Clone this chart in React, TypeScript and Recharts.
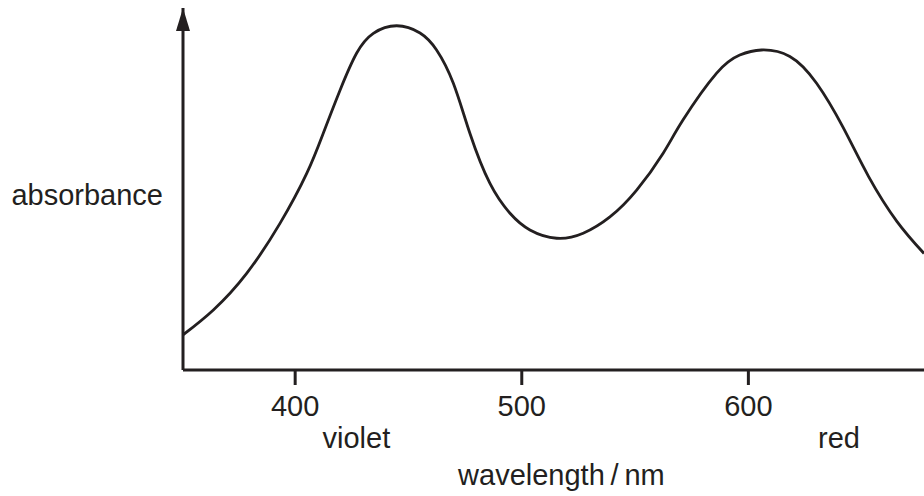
import React from 'react';
import { LineChart, Line, XAxis, YAxis } from 'recharts';

// absorbance spectrum (arbitrary units, 0-100)
const wavelengths = [
  350.5, 363.9, 378.6, 393.3, 405.1, 412.4, 419.8, 427.1, 434.5, 444.8, 455.1,
  462.4, 469.8, 477.1, 485.9, 494.8, 503.6, 515.4, 527.1, 538.9, 550.7, 562.4,
  571.2, 586.0, 596.2, 605.8, 618.3, 630.1, 641.8, 653.0, 665.6, 677.5,
];
const absorbance = [
  9.7, 16.6, 26.7, 40.5, 54.3, 65.4, 77.3, 87.5, 93.0, 95.1, 93.1,
  88.4, 79.2, 65.4, 51.6, 43.3, 38.7, 36.4, 37.8, 42.3, 49.7, 59.9,
  69.1, 82.0, 87.0, 88.4, 86.6, 79.2, 67.0, 53.5, 41.0, 32.2,
];
const xTicks = [400, 500, 600];
const colourNames = ['violet', 'red'];
const colourAt = [427, 640];

const X_DOMAIN: [number, number] = [350.5, 677.5];
const INK = '#231f20';
const FONT = '"Liberation Sans", Arial, Helvetica, sans-serif';
const FS = 29;

const data = wavelengths.map((nm, i) => ({ nm, a: absorbance[i] }));

const XLabels = (props: any) => {
  const vb = props.viewBox || {};
  const toX = (nm: number) =>
    vb.x + ((nm - X_DOMAIN[0]) / (X_DOMAIN[1] - X_DOMAIN[0])) * vb.width;
  return (
    <g fontFamily={FONT} fontSize={FS} fill={INK} textAnchor="middle">
      {colourNames.map((name, i) => (
        <text key={name} x={toX(colourAt[i])} y={vb.y + 78}>
          {name}
        </text>
      ))}
      <text x={toX(517.5)} y={vb.y + 115}>
        {'wavelength\u2009/\u2009nm'}
      </text>
    </g>
  );
};

const YLabel = (props: any) => {
  const vb = props.viewBox || {};
  return (
    <text
      x={vb.x + vb.width - 20}
      y={vb.y + vb.height / 2 + 16}
      textAnchor="end"
      fontFamily={FONT}
      fontSize={FS}
      fill={INK}
    >
      absorbance
    </text>
  );
};

export default function App() {
  return (
    <div style={{ position: 'absolute', left: 0, top: 0, background: '#fff' }}>
      <LineChart
        width={924}
        height={496}
        data={data}
        margin={{ top: 8, right: 0, bottom: 0, left: 0 }}
      >
        <defs>
          <marker
            id="arrowUp"
            markerUnits="userSpaceOnUse"
            markerWidth={14}
            markerHeight={23}
            viewBox="0 0 14 23"
            refX={7}
            refY={0}
            orient="0"
          >
            <path d="M0,23 L7,0 L14,23 Z" fill={INK} />
          </marker>
        </defs>
        <XAxis
          dataKey="nm"
          type="number"
          domain={X_DOMAIN}
          allowDataOverflow
          ticks={xTicks}
          height={126}
          tickSize={15}
          tickMargin={10}
          axisLine={{ stroke: INK, strokeWidth: 3 }}
          tickLine={{ stroke: INK, strokeWidth: 3 }}
          tick={{ fill: INK, fontSize: FS, fontFamily: FONT }}
          label={{ content: XLabels }}
        />
        <YAxis
          type="number"
          domain={[0, 100]}
          allowDataOverflow
          width={183}
          ticks={[]}
          tick={false}
          tickLine={false}
          axisLine={{ stroke: INK, strokeWidth: 3, markerStart: 'url(#arrowUp)' }}
          label={{ content: YLabel }}
        />
        <Line
          type="natural"
          dataKey="a"
          stroke={INK}
          strokeWidth={2.8}
          dot={false}
          activeDot={false}
          isAnimationActive={false}
        />
      </LineChart>
    </div>
  );
}
